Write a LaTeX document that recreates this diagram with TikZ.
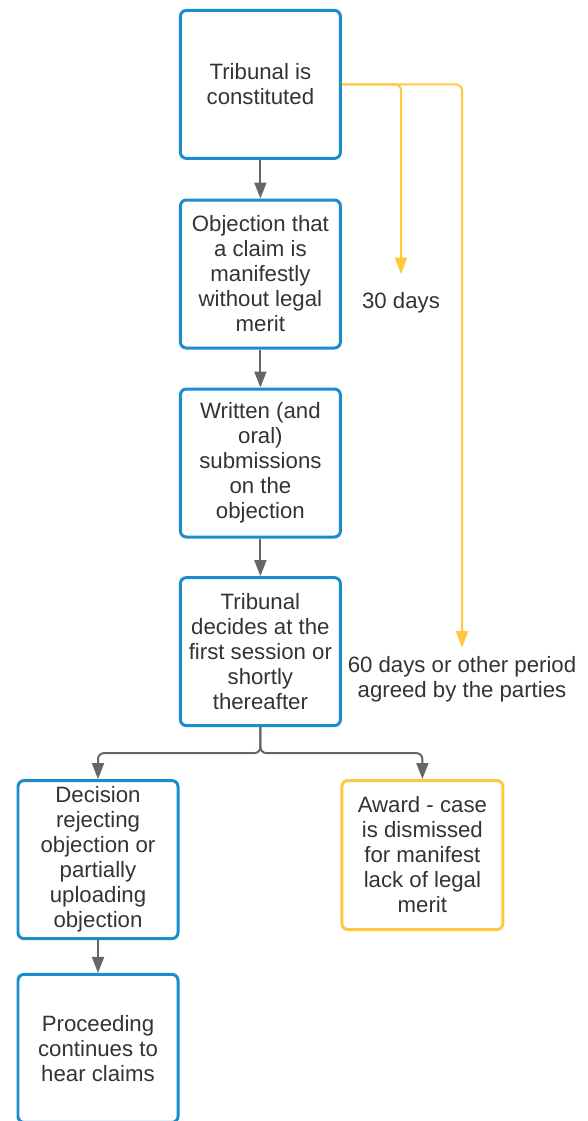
\documentclass[tikz,border=0pt]{standalone}
\usepackage{fontspec}
\setmainfont{Liberation Sans}
\usetikzlibrary{arrows.meta}

\definecolor{boxblue}{RGB}{27,141,204}
\definecolor{boxyellow}{RGB}{255,200,61}
\definecolor{linegray}{RGB}{102,102,102}
\definecolor{textgray}{RGB}{51,51,51}

\begin{document}
\begin{tikzpicture}[
        every node/.style={font=\fontsize{15.8}{17.8}\selectfont, text=textgray},
        stepbox/.style={draw=boxblue, line width=0.075cm, rounded corners=0.15cm,
            minimum width=4cm, minimum height=3.7cm, align=center, inner sep=0pt},
        awardbox/.style={stepbox, draw=boxyellow},
        daylabel/.style={align=center, inner sep=0pt},
        flow/.style={draw=linegray, line width=0.05cm, rounded corners=0.15cm,
            -{Triangle[length=0.4cm,width=0.3cm]}},
        timeline/.style={draw=boxyellow, line width=0.05cm, rounded corners=0.15cm,
            -{Triangle[length=0.42cm,width=0.3cm]}}
    ]
        \useasboundingbox (0,0) rectangle (14.7,-28.025);

        % Main column of steps
        \node[stepbox] (constituted) at (6.51,-2.11) {Tribunal is\\constituted};
        \node[stepbox] (objection) at (6.51,-6.85) {Objection that\\a claim is\\manifestly\\without legal\\merit};
        \node[stepbox] (submissions) at (6.51,-11.575) {Written (and\\oral)\\submissions\\on the\\objection};
        \node[stepbox] (decides) at (6.51,-16.29) {Tribunal\\decides at the\\first session or\\shortly\\thereafter};

        % Outcomes
        \node[stepbox, minimum height=3.95cm] (rejecting) at (2.45,-21.49) {Decision\\rejecting\\objection or\\partially\\uploading\\objection};
        \node[awardbox, minimum width=4.025cm, minimum height=3.725cm] (award) at (10.56,-21.375) {Award - case\\is dismissed\\for manifest\\lack of legal\\merit};
        \node[stepbox] (continues) at (2.45,-26.21) {Proceeding\\continues to\\hear claims};

        % Time limits
        \node[daylabel] (thirty) at (10.025,-7.575) {30 days};
        \node[daylabel] (sixty) at (11.55,-16.975) {60 days or other period\\agreed by the parties};

        % Gray flow arrows
        \draw[flow] (constituted) -- (objection);
        \draw[flow] (objection) -- (submissions);
        \draw[flow] (submissions) -- (decides);
        \draw[flow] (decides.south) -- ++(0,-0.65) -| (rejecting.north);
        \draw[flow] (decides.south) -- ++(0,-0.65) -| (award.north);
        \draw[flow] (rejecting) -- (continues);

        % Yellow time arrows
        \draw[timeline, shorten >=0.45cm] (constituted.east) -| (thirty.north);
        \draw[timeline, shorten >=0.2cm] (constituted.east) -| (sixty.north);
    \end{tikzpicture}
\end{document}
